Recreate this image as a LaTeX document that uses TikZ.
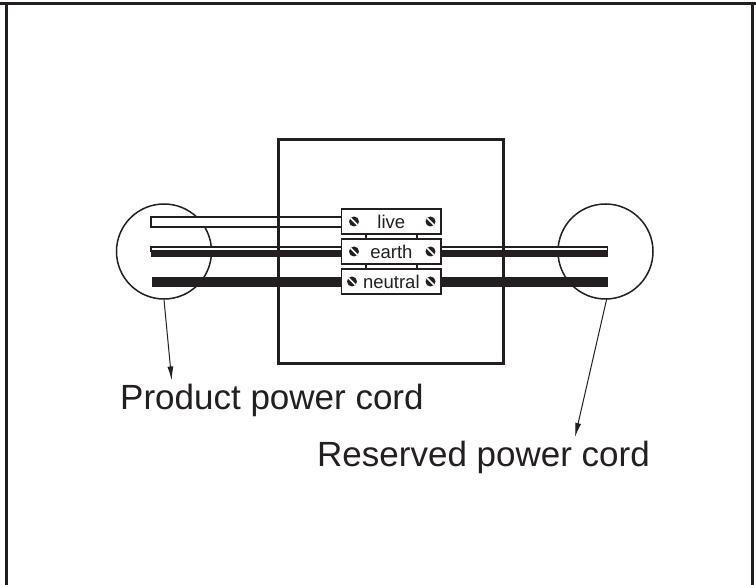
\documentclass[tikz,border=0pt]{standalone}
\usepackage{fontspec}
\setmainfont{Liberation Sans}
\usetikzlibrary{arrows.meta}
\definecolor{ink}{RGB}{35,31,32}
\begin{document}
\begin{tikzpicture}[x=1pt,y=-1pt,
  frameline/.style={draw=ink, line width=3pt},
  ring/.style={circle, draw=ink, line width=1.5pt, minimum size=95pt, inner sep=0pt},
  whitewire/.style={draw=ink, fill=white, line width=1.3pt},
  blackwire/.style={fill=ink},
  term/.style={draw=ink, fill=white, line width=1.4pt, minimum width=99.3pt, minimum height=25pt, inner sep=0pt, font=\fontsize{18.5}{20}\selectfont, text=ink},
  bridge/.style={draw=ink, fill=white, line width=1.3pt},
  lbl/.style={font=\fontsize{35}{40}\selectfont, text=ink, inner sep=0pt, anchor=base west},
  pointer/.style={draw=ink, line width=1pt, -{Latex[length=14pt,width=6pt]}},
  screw/.pic={\fill[ink] (0,0) circle (5); \draw[white, line width=1.5pt] (-3.4,-3.4) -- (3.4,3.4);}
]
\useasboundingbox (0,0) rectangle (756,585);
\fill[white] (0,0) rectangle (756,585);

% frame
\draw[frameline] (0,3.5) -- (756,3.5);
\draw[frameline] (6,3.5) -- (6,585);
\draw[frameline] (752,3.5) -- (752,585);

% circles
\node[ring] (lc) at (164,251.5) {};
\node[ring] (rc) at (605.5,251.5) {};

% wires left
\draw[whitewire] (151,217) rectangle (341.7,227);
\fill[blackwire] (151,251) rectangle (341.7,257);
\draw[whitewire] (151,247) rectangle (341.7,251);
\fill[blackwire] (152,277) rectangle (341.7,287);
% wires right
\fill[blackwire] (441,251) rectangle (607.7,257);
\draw[whitewire] (441,247) rectangle (607.7,251);
\fill[blackwire] (441,277) rectangle (607.7,287);

% main box
\node[draw=ink, line width=3pt, minimum width=225pt, minimum height=224pt, inner sep=0pt] (box) at (391,251.5) {};

% bridges
\draw[bridge] (366,233) rectangle (417,240);
\draw[bridge] (366,263) rectangle (417,270);

% terminals
\node[term] (live) at (391.35,221.5) {live};
\node[term] (earth) at (391.35,251.5) {earth};
\node[term] (neutral) at (391.35,281.5) {neutral};

\pic at (354,221.5) {screw};
\pic at (430.5,221.5) {screw};
\pic at (354,251.5) {screw};
\pic at (430.5,251.5) {screw};
\pic at (352,281.5) {screw};
\pic at (430.5,281.5) {screw};

% labels
\node[lbl] (prod) at (120,410) {Product power cord};
\node[lbl] (resv) at (317,466.5) {Reserved power cord};

% pointers
\coordinate (la) at (lc.south);
\coordinate (lt) at (171.7,380.5);
\coordinate (ra) at (606.7,299);
\coordinate (rt) at (575,437);
\draw[pointer] (la) -- (lt);
\draw[pointer] (ra) -- (rt);
\end{tikzpicture}
\end{document}
